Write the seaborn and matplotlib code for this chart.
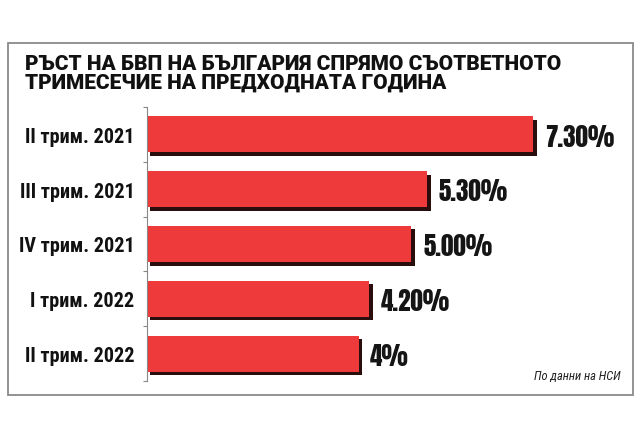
import matplotlib
matplotlib.use("Agg")
import matplotlib.pyplot as plt
import matplotlib.patheffects as pe
from matplotlib.patches import Rectangle
import seaborn as sns
import pandas as pd

categories = ["II трим. 2021", "III трим. 2021", "IV трим. 2021", "I трим. 2022", "II трим. 2022"]
values = [7.3, 5.3, 5.0, 4.2, 4.0]
value_labels = ["7.30%", "5.30%", "5.00%", "4.20%", "4%"]
title = "РЪСТ НА БВП НА БЪЛГАРИЯ СПРЯМО СЪОТВЕТНОТО\nТРИМЕСЕЧИЕ НА ПРЕДХОДНАТА ГОДИНА"
source = "По данни на НСИ"

sns.set_style("white")
plt.rcParams["font.family"] = ["Roboto", "DejaVu Sans"]

df = pd.DataFrame({"cat": categories, "val": values})

fig = plt.figure(figsize=(6.4, 4.39), dpi=100)
fig.patch.set_facecolor("white")
ax = fig.add_axes([147/640, 1-382/439, (633-147)/640, (382-108)/439])

sns.barplot(data=df, x="val", y="cat", orient="h", color="#EE3A3A", width=0.66,
            saturation=1, ax=ax, edgecolor="none")
for p in ax.patches:
    p.set_path_effects([pe.SimplePatchShadow(offset=(2.5, -2.5), shadow_rgbFace="#2a0e0e", alpha=1.0),
                        pe.Normal()])

ax.set_xlim(0, 9.19)
ax.set_ylim(4.5, -0.5)
ax.set_xlabel("")
ax.set_ylabel("")
ax.set_xticks([])
for s in ["top", "right", "bottom"]:
    ax.spines[s].set_visible(False)
ax.spines["left"].set_color("#888888")
ax.spines["left"].set_linewidth(0.8)
ax.set_yticks([i - 0.5 for i in range(len(categories) + 1)], minor=True)
ax.tick_params(axis="y", which="minor", length=3, color="#888888", width=0.8, left=True)
ax.tick_params(axis="y", which="major", length=0, pad=9)
for lab in ax.get_yticklabels():
    lab.set_fontweight("bold")
    lab.set_color("#111111")
    lab.set_family(["Roboto Condensed", "DejaVu Sans"])
    lab.set_fontsize(14.5)

for i, (v, t) in enumerate(zip(values, value_labels)):
    ax.text(v + 0.22, i + 0.03, t, va="center", ha="left", fontsize=18,
            family=["Anton", "DejaVu Sans"], color="#151515")

fig.text(25/640, 1-55/439, title, ha="left", va="top", fontsize=15,
         fontweight="black", color="#111111", linespacing=1.0)
fig.text(621/640, 1-377/439, source, ha="right", va="center", fontsize=9,
         style="italic", family=["Roboto Condensed", "DejaVu Sans"], color="#222222")

fig.add_artist(Rectangle((8/640, 1-396/439), (633-8)/640, (396-44)/439,
                         transform=fig.transFigure, fill=False,
                         edgecolor="#8a8a8a", linewidth=1.3))

fig.savefig("out.png", dpi=100, facecolor="white")
